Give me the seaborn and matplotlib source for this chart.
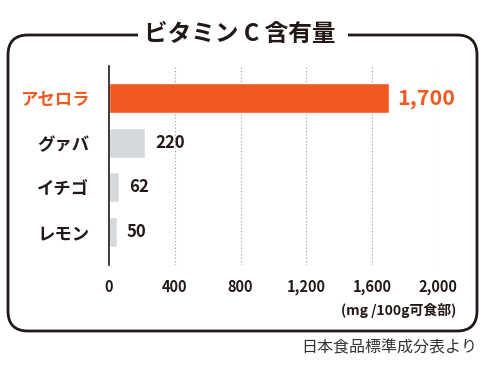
import matplotlib
matplotlib.use("Agg")
import matplotlib.pyplot as plt
import seaborn as sns
import pandas as pd
from matplotlib.patches import FancyBboxPatch, Rectangle

categories = ["アセロラ", "グァバ", "イチゴ", "レモン"]
values = [1700, 220, 62, 50]
value_labels = ["1,700", "220", "62", "50"]
xticks = [0, 400, 800, 1200, 1600, 2000]
xtick_labels = ["0", "400", "800", "1,200", "1,600", "2,000"]
title = "ビタミン C 含有量"
unit_label = "(mg /100g可食部)"
source = "日本食品標準成分表より"

ORANGE = "#F05A22"
GRAY = "#D6D9DC"
DARK = "#231815"

sns.set_theme(style="white")
plt.rcParams["font.family"] = ["Noto Sans CJK JP", "DejaVu Sans"]

df = pd.DataFrame({"cat": categories, "val": values})
colors = {categories[0]: ORANGE}
for c in categories[1:]:
    colors[c] = GRAY

fig = plt.figure(figsize=(4.9, 3.67), dpi=100)
W, H = 490, 367
ax = fig.add_axes([109 / W, 1 - 265 / H, 329 / W, 199 / H])

sns.barplot(data=df, x="val", y="cat", hue="cat", palette=colors, legend=False,
            orient="h", width=0.67, ax=ax, saturation=1)

ax.set_xlim(0, 2000)
ax.set_ylim(3.736, -0.716)
ax.set_xticks(xticks)
ax.set_xticklabels(xtick_labels, fontsize=10.5, color=DARK, fontweight="bold")
ax.tick_params(axis="x", length=0, pad=10)
ax.set_yticks(range(len(categories)))
ax.set_yticklabels(categories, fontsize=12.5, fontweight="bold")
ax.tick_params(axis="y", length=0, pad=14)
for lab, col in zip(ax.get_yticklabels(), [ORANGE, DARK, DARK, DARK]):
    lab.set_color(col)
ax.set_xlabel("")
ax.set_ylabel("")
for s in ["top", "right", "bottom"]:
    ax.spines[s].set_visible(False)
ax.spines["left"].set_color(DARK)
ax.spines["left"].set_linewidth(1.2)
for xv in xticks[1:]:
    ax.axvline(xv, color="#999999", linestyle=(0, (1, 2)), linewidth=0.8, zorder=0)

for i, (v, lbl) in enumerate(zip(values, value_labels)):
    if i == 0:
        ax.annotate(lbl, (v, i), xytext=(6, 0), textcoords="offset points",
                    va="center", ha="left", fontsize=15.5, color=ORANGE,
                    fontweight="bold")
    else:
        ax.annotate(lbl, (v, i), xytext=(7, 0), textcoords="offset points",
                    va="center", ha="left", fontsize=12, color=DARK,
                    fontweight="bold")

# rounded frame
box = FancyBboxPatch((0.08, 0.36), 4.69, 2.96,
                     boxstyle="round,pad=0,rounding_size=0.2",
                     transform=fig.dpi_scale_trans, fill=False,
                     edgecolor=DARK, linewidth=2.0, zorder=1)
fig.patches.append(box)
gap = Rectangle((1.38, 3.2), 2.1, 0.25, transform=fig.dpi_scale_trans,
                facecolor="white", edgecolor="none", zorder=2)
fig.patches.append(gap)
fig.text(240 / W, 1 - 34 / H, title, ha="center", va="center",
         fontsize=17, fontweight="bold", color=DARK, zorder=3)

fig.text(456 / W, 1 - 310 / H, unit_label, ha="right", va="center",
         fontsize=10, fontweight="bold", color=DARK)
fig.text(477 / W, 1 - 348 / H, source, ha="right", va="center",
         fontsize=11.5, color="#333333")

fig.savefig("out.png", dpi=100)
